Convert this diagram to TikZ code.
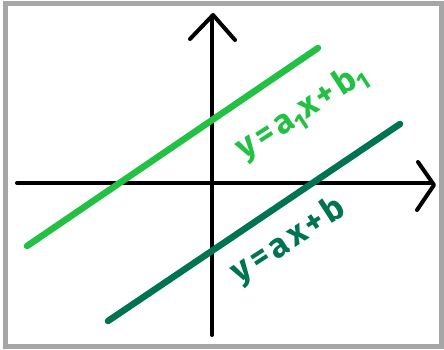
\documentclass[tikz,border=0pt]{standalone}
\usepackage{fontspec}
\setmainfont{Fira Sans}
\definecolor{lightgreen}{RGB}{34,193,68}
\definecolor{darkgreen}{RGB}{0,115,82}
\definecolor{framegray}{RGB}{166,166,166}
\begin{document}
\begin{tikzpicture}[x=1pt,y=-1pt,
  axis/.style={line width=4pt,line cap=round,line join=round,black},
  graphline/.style={line width=6.5pt,line cap=round},
  eqlabel/.style={font=\fontsize{34}{34}\selectfont\bfseries\addfontfeature{LetterSpace=12},rotate=33,inner sep=0pt}]
\useasboundingbox (0,0) rectangle (444,349);
\draw[framegray,line width=4.5pt] (5.5,3.5) rectangle (441.5,346.5);
% axes
\coordinate (xs) at (17,183);
\coordinate (xe) at (432,183);
\coordinate (xa1) at (418,162);
\coordinate (xtip) at (434,185);
\coordinate (xa2) at (417,210);
\coordinate (ys) at (212,335);
\coordinate (ye) at (212,17);
\coordinate (ya1) at (190,39);
\coordinate (ytip) at (213,15);
\coordinate (ya2) at (235,40);
\draw[axis] (xs) -- (xe);
\draw[axis] (xa1) -- (xtip) -- (xa2);
\draw[axis] (ys) -- (ye);
\draw[axis] (ya1) -- (ytip) -- (ya2);
% lines
\coordinate (l1s) at (27,246);
\coordinate (l1e) at (318,48);
\coordinate (l2s) at (108,321);
\coordinate (l2e) at (400,124);
\draw[graphline,lightgreen] (l1s) -- (l1e);
\draw[graphline,darkgreen] (l2s) -- (l2e);
% labels
\node[eqlabel,text=lightgreen] (lab1) at (302,112) {y=a\textsubscript{1}x+b\textsubscript{1}};
\node[eqlabel,text=darkgreen] (lab2) at (289,241) {y=ax+b};
\end{tikzpicture}
\end{document}
